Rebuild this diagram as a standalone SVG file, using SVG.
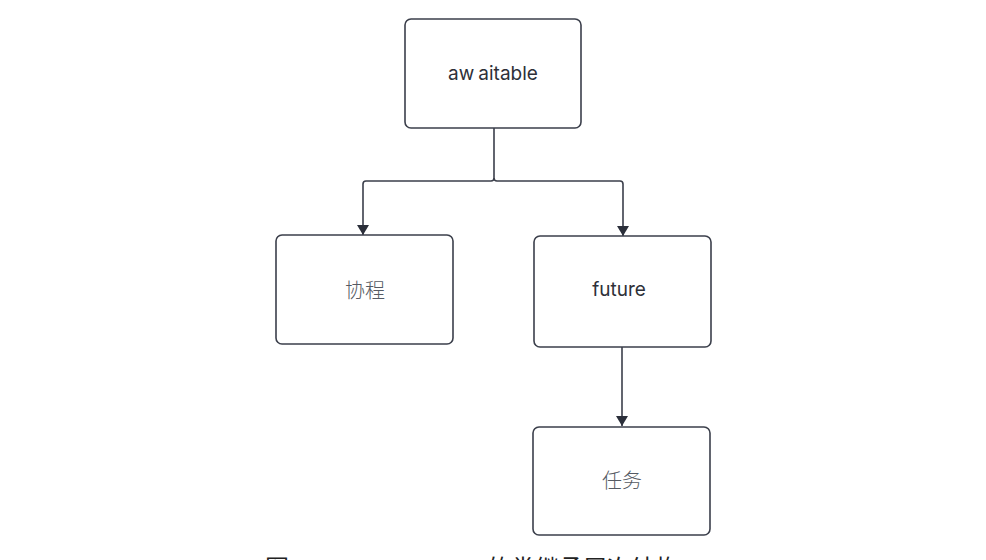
<svg xmlns="http://www.w3.org/2000/svg" width="986" height="560" viewBox="0 0 986 560">
<style>
.box{fill:#fff;stroke:#3b3f4b;stroke-width:1.6}
.edge{fill:none;stroke:#3b3f4b;stroke-width:1.6}
.lat{font-family:Inter,"Liberation Sans",Arial,sans-serif;font-size:19px;fill:#2e3038;text-anchor:middle}
.cjk{font-family:"Noto Sans CJK SC",sans-serif;font-size:20px;font-weight:300;fill:#555a63;text-anchor:middle}
.cap{font-family:"Noto Sans CJK SC",sans-serif;font-size:24px;fill:#222}
</style>
<defs>
<marker id="arr" viewBox="0 0 10 12" refX="10" refY="6" markerWidth="11" markerHeight="12" markerUnits="userSpaceOnUse" orient="auto">
<path d="M0,0 L10,6 L0,12 Z" fill="#2b2f3a"/>
</marker>
</defs>
<rect width="986" height="560" fill="#fff"/>
<g id="connectors">
<path class="edge" d="M494,128 V178 Q494,181 491,181 H366 Q363,181 363,184 V235" marker-end="url(#arr)"/>
<path class="edge" d="M494,178 Q494,181 497,181 H620 Q623,181 623,184 V236" marker-end="url(#arr)"/>
<path class="edge" d="M622,347 V426" marker-end="url(#arr)"/>
</g>
<g id="awaitable">
<rect class="box" x="405" y="19" width="176" height="109" rx="6"/>
<text class="lat" x="493" y="80">aw<tspan dx="4">aitable</tspan></text>
</g>
<g id="coroutine">
<rect class="box" x="276" y="235" width="177" height="109" rx="6"/>
<text class="cjk" x="365" y="298">协程</text>
</g>
<g id="future">
<rect class="box" x="534" y="236" width="177" height="111" rx="6"/>
<text class="lat" x="619" y="296">future</text>
</g>
<g id="task">
<rect class="box" x="533" y="427" width="177" height="108" rx="6"/>
<text class="cjk" x="622" y="488">任务</text>
</g>
<text class="cap" x="265" y="577">图<tspan x="487">的类继承层次结构</tspan></text>
</svg>
